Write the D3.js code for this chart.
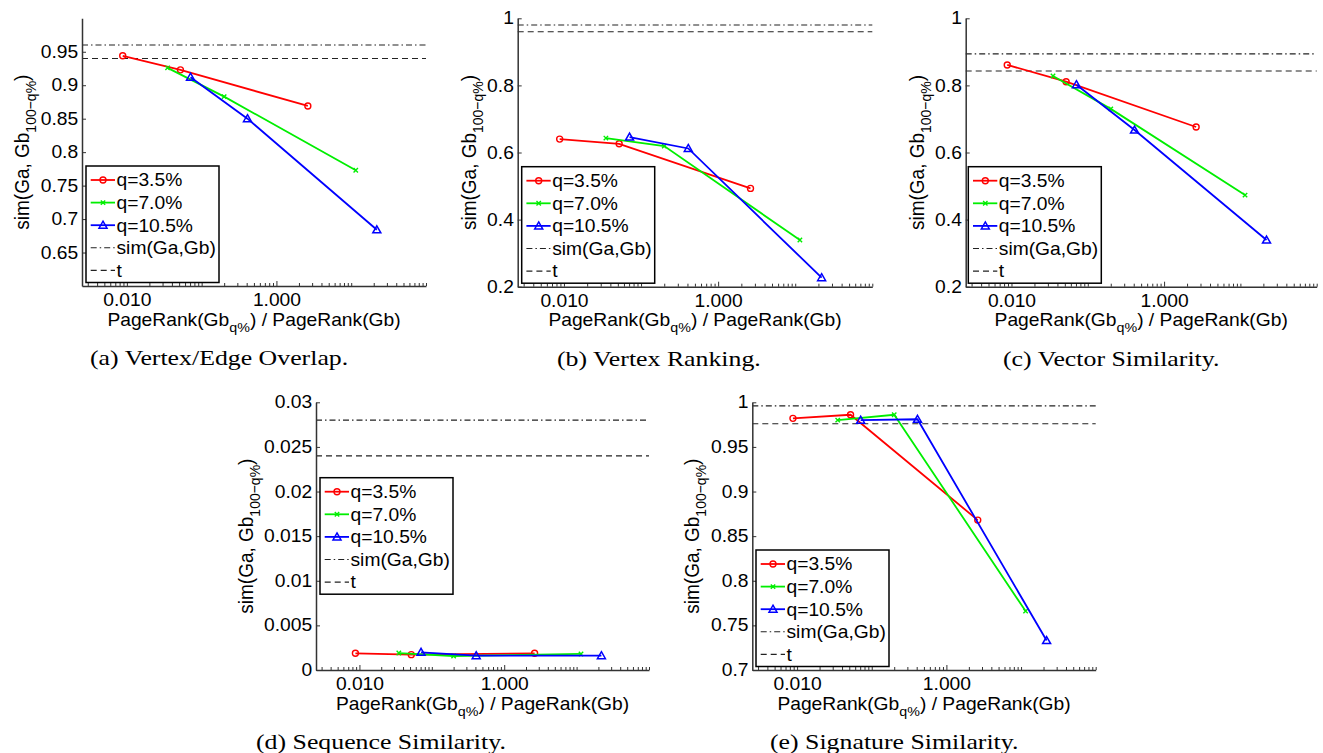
<!DOCTYPE html>
<meta charset="utf-8">
<script src="https://d3js.org/d3.v7.min.js"></script>
<style>
  body { margin: 0; background: #fff; }
</style>
<body>
<div id="chart"></div>
<script>
// x positions (PageRank(Gb_q%) / PageRank(Gb)) shared by every panel
var xQ35 = [0.0088, 0.052, 2.63];
var xQ70 = [0.035, 0.20, 11.5];
var xQ105 = [0.071, 0.41, 22];
var seriesNames = ["q=3.5%", "q=7.0%", "q=10.5%"];

// similarity values, one array per series and panel
var overlapQ35 = [0.944, 0.923, 0.869], overlapQ70 = [0.926, 0.883, 0.773], overlapQ105 = [0.912, 0.850, 0.684];
var rankingQ35 = [0.640, 0.626, 0.493], rankingQ70 = [0.643, 0.619, 0.339], rankingQ105 = [0.646, 0.612, 0.227];
var vectorQ35 = [0.861, 0.811, 0.676], vectorQ70 = [0.828, 0.730, 0.473], vectorQ105 = [0.802, 0.667, 0.339];
var sequenceQ35 = [0.00187, 0.00172, 0.00187], sequenceQ70 = [0.0019, 0.00157, 0.0018], sequenceQ105 = [0.00198, 0.0016, 0.0016];
var signatureQ35 = [0.982, 0.986, 0.868], signatureQ70 = [0.980, 0.986, 0.766], signatureQ105 = [0.980, 0.981, 0.733];

var simValues = [0.96, 0.98, 0.894, 0.028, 0.996];   // sim(Ga,Gb)
var tValues = [0.94, 0.96, 0.843, 0.024, 0.976];     // threshold t

var yDomains = [[0.6, 1], [0.2, 1], [0.2, 1], [0, 0.03], [0.7, 1]];
var yTicksA = [0.65, 0.7, 0.75, 0.8, 0.85, 0.9, 0.95];
var yTicksB = [0.2, 0.4, 0.6, 0.8, 1];
var yTicksD = [0, 0.005, 0.01, 0.015, 0.02, 0.025, 0.03];
var yTicksE = [0.7, 0.75, 0.8, 0.85, 0.9, 0.95, 1];
var xTickLabels = [0.01, 1];
var captions = ["(a) Vertex/Edge Overlap.", "(b) Vertex Ranking.", "(c) Vector Similarity.",
                "(d) Sequence Similarity.", "(e) Signature Similarity."];

var SANS = "'Liberation Sans', Arial, Helvetica, sans-serif";
var SERIF = "'Liberation Serif', 'Times New Roman', serif";
var SX = 1.1;       // the figure is a bit wider than tall
var FS = 17.5;
var colors = ["#ff0000", "#00ee00", "#0000ff"];
var markers = ["circle", "x", "triangle"];

// panel boxes
var layout = [
  {left: 82,    right: 426,    top: 18.3,  bottom: 286,   lx: 86,    ly: 166,   ylab: 21.7,  cap: 90},
  {left: 517.7, right: 872.3,  top: 18.3,  bottom: 286.7, lx: 521.7, ly: 166.7, ylab: 468.3, cap: 557},
  {left: 965.7, right: 1316.7, top: 18.3,  bottom: 286.7, lx: 968.3, ly: 166.7, ylab: 916.7, cap: 1003},
  {left: 316,   right: 649,    top: 402.3, bottom: 670,   lx: 320,   ly: 477.7, ylab: 245,   cap: 256},
  {left: 752.3, right: 1095.7, top: 402.3, bottom: 670,   lx: 756,   ly: 550,   ylab: 691.7, cap: 770}
];

var panelY = [
  [overlapQ35, overlapQ70, overlapQ105],
  [rankingQ35, rankingQ70, rankingQ105],
  [vectorQ35, vectorQ70, vectorQ105],
  [sequenceQ35, sequenceQ70, sequenceQ105],
  [signatureQ35, signatureQ70, signatureQ105]
];
var panelTicks = [yTicksA, yTicksB, yTicksB, yTicksD, yTicksE];
var xSeries = [xQ35, xQ70, xQ105];

var svg = d3.select("#chart").append("svg")
  .attr("width", 1323).attr("height", 753)
  .style("background", "#fff");

function stretchedText(g, x, y, s, size, family, anchor, sx) {
  return g.append("g")
      .attr("transform", "translate(" + x + "," + y + ") scale(" + (sx || SX) + ",1)")
    .append("text")
      .attr("text-anchor", anchor || "start")
      .style("font-family", family || SANS)
      .style("font-size", (size || FS) + "px")
      .text(s);
}

function drawMarker(g, type, cx, cy, color) {
  if (type === "circle") {
    g.append("circle").attr("cx", cx).attr("cy", cy).attr("r", 3)
      .attr("fill", "none").attr("stroke", color).attr("stroke-width", 1.4);
  } else if (type === "x") {
    var s = 2.2;
    g.append("path")
      .attr("d", "M" + (cx - s) + "," + (cy - s) + "L" + (cx + s) + "," + (cy + s) +
                 "M" + (cx - s) + "," + (cy + s) + "L" + (cx + s) + "," + (cy - s))
      .attr("stroke", color).attr("stroke-width", 1.4);
  } else {
    var h = 4;
    g.append("path")
      .attr("d", "M" + cx + "," + (cy - h) + "L" + (cx + h) + "," + (cy + h * 0.75) +
                 "L" + (cx - h) + "," + (cy + h * 0.75) + "Z")
      .attr("fill", "none").attr("stroke", color).attr("stroke-width", 1.5);
  }
}

layout.forEach(function(p, i) {
  var g = svg.append("g");

  var x = d3.scaleLog().domain([Math.pow(10, -2.6), 100]).range([p.left, p.right]);
  var y = d3.scaleLinear().domain(yDomains[i]).range([p.bottom, p.top]);

  // reference lines
  g.append("line").attr("x1", p.left).attr("x2", p.right)
    .attr("y1", y(simValues[i])).attr("y2", y(simValues[i]))
    .attr("stroke", "#222").attr("stroke-width", 1.1).attr("stroke-dasharray", "6,3,1.5,3");
  g.append("line").attr("x1", p.left).attr("x2", p.right)
    .attr("y1", y(tValues[i])).attr("y2", y(tValues[i]))
    .attr("stroke", "#222").attr("stroke-width", 1.1).attr("stroke-dasharray", "6,4");

  // x axis with log minor ticks
  var minor = [];
  for (var e = -3; e <= 2; e++) {
    for (var k = 1; k <= 9; k++) {
      var v = k * Math.pow(10, e);
      if (v >= x.domain()[0] && v <= x.domain()[1] * 1.0001) minor.push(v);
    }
  }
  function isLabelled(d) {
    return xTickLabels.some(function(t) { return Math.abs(t - d) / t < 1e-6; });
  }
  var xAxis = g.append("g")
    .attr("transform", "translate(0," + p.bottom + ")")
    .call(d3.axisBottom(x).tickValues(minor).tickSizeInner(-3).tickSizeOuter(0).tickPadding(7.5)
      .tickFormat(function(d) { return isLabelled(d) ? d3.format(".3f")(d) : ""; }));
  xAxis.selectAll(".tick line").attr("y2", function(d) { return isLabelled(d) ? -5 : -3; });

  // y axis
  var yAxis = g.append("g")
    .attr("transform", "translate(" + p.left + ",0)")
    .call(d3.axisLeft(y).tickValues(panelTicks[i]).tickSizeInner(-4).tickSizeOuter(0).tickPadding(3.5)
      .tickFormat(function(d) { return String(d); }));

  [xAxis, yAxis].forEach(function(a) {
    a.attr("font-family", SANS).attr("font-size", FS);
    a.select(".domain").attr("stroke", "#333").attr("stroke-width", 1.5);
    a.selectAll(".tick line").attr("stroke", "#333").attr("stroke-width", 1);
    a.selectAll(".tick text").attr("fill", "#000").attr("transform", "scale(" + SX + ",1)");
  });

  // series
  var line = d3.line().x(function(d) { return x(d[0]); }).y(function(d) { return y(d[1]); });
  panelY[i].forEach(function(ys, s) {
    var pts = ys.map(function(v, j) { return [xSeries[s][j], v]; });
    g.append("path").datum(pts).attr("d", line)
      .attr("fill", "none").attr("stroke", colors[s]).attr("stroke-width", 1.8);
    pts.forEach(function(d) { drawMarker(g, markers[s], x(d[0]), y(d[1]), colors[s]); });
  });

  // legend
  var lg = g.append("g");
  lg.append("rect").attr("x", p.lx).attr("y", p.ly).attr("width", 133).attr("height", 116.5)
    .attr("fill", "#fff").attr("stroke", "#000").attr("stroke-width", 1.5);
  var labels = seriesNames.concat(["sim(Ga,Gb)", "t"]);
  labels.forEach(function(lbl, r) {
    var ry = p.ly + 14 + r * 22.6;
    var ln = lg.append("line").attr("x1", p.lx + 4.7).attr("x2", p.lx + 29).attr("y1", ry).attr("y2", ry);
    if (r < 3) {
      ln.attr("stroke", colors[r]).attr("stroke-width", 1.8);
      drawMarker(lg, markers[r], p.lx + 17, ry, colors[r]);
    } else {
      ln.attr("stroke", "#222").attr("stroke-width", 1.1)
        .attr("stroke-dasharray", r === 3 ? "6,3,1.5,3" : "6,4");
    }
    stretchedText(lg, p.lx + 30.5, ry, lbl).attr("dy", "0.36em");
  });

  // x label with subscript
  var xl = stretchedText(g, (p.left + p.right) / 2, p.bottom + 39.5, "", FS, SANS, "middle");
  xl.append("tspan").text("PageRank(Gb");
  xl.append("tspan").attr("dy", 6).style("font-size", "13px").text("q%");
  xl.append("tspan").attr("dy", -6).text(") / PageRank(Gb)");

  // y label with subscript, rotated
  var yl = g.append("g")
      .attr("transform", "translate(" + p.ylab + "," + ((p.top + p.bottom) / 2) + ") rotate(-90) scale(1," + SX + ")")
    .append("text").attr("text-anchor", "middle").attr("dy", "0.36em")
      .style("font-family", SANS).style("font-size", "19px");
  yl.append("tspan").text("sim(Ga, Gb");
  yl.append("tspan").attr("dy", 6.5).style("font-size", "14px").text("100\u2212q%");
  yl.append("tspan").attr("dy", -6.5).text(")");

  // caption
  stretchedText(g, p.cap, p.bottom + 79, captions[i], 20.5, SERIF, "start", 1.26);
});
</script>
</body>
